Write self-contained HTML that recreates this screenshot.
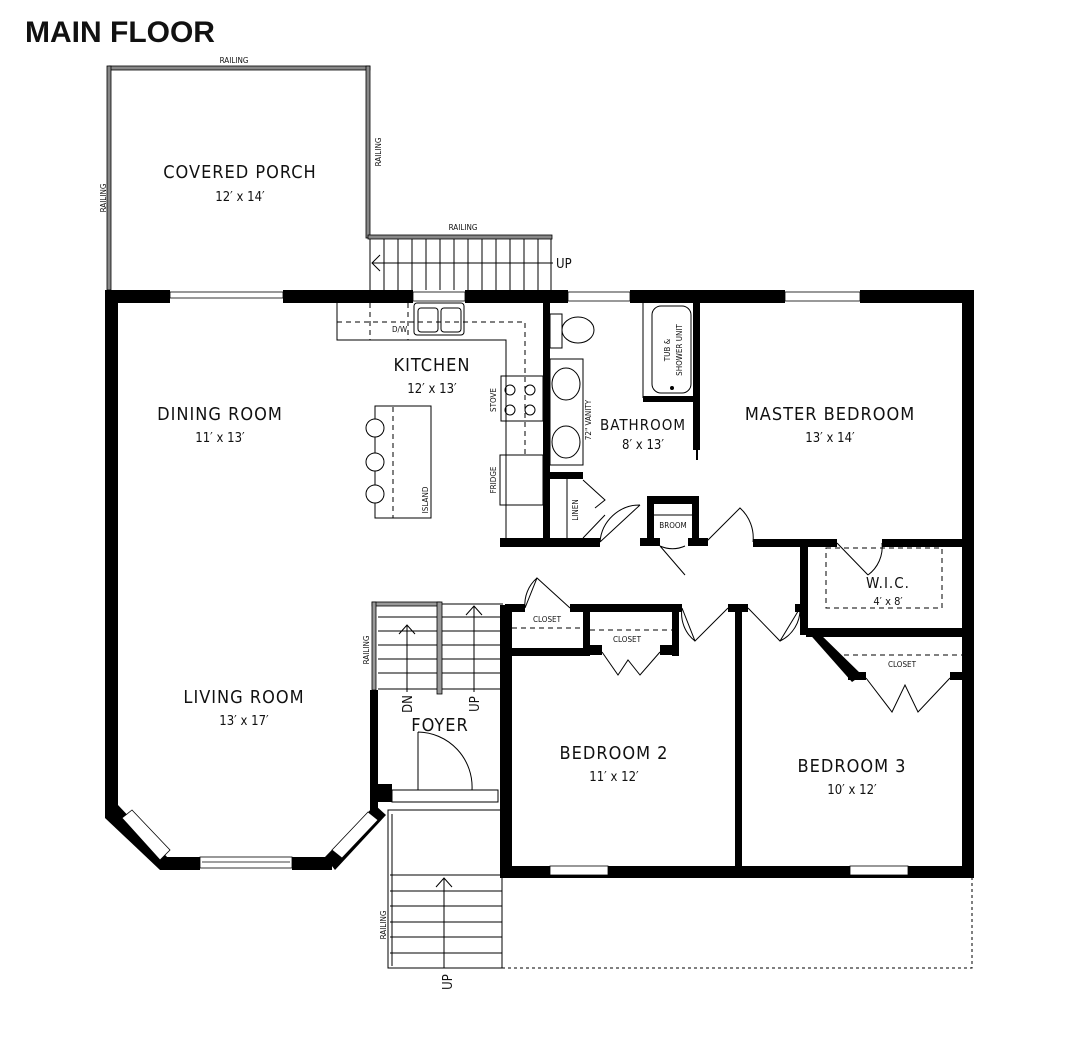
<!DOCTYPE html>
<html><head><meta charset="utf-8"><style>
html,body{margin:0;padding:0;background:#fff;}
svg{display:block;}
text{font-family:"DejaVu Sans Condensed","DejaVu Sans","Liberation Sans Narrow",sans-serif;fill:#111;}
.t{font-size:18px;letter-spacing:1px;}
.d{font-size:13px;}
.s{font-size:8px;}
</style></head><body>
<svg width="1070" height="1059" viewBox="0 0 1070 1059" xmlns="http://www.w3.org/2000/svg">
<rect width="1070" height="1059" fill="#fff"/>
<text x="25" y="42" style="font-family:'Liberation Sans',sans-serif;font-weight:bold;font-size:30px;">MAIN FLOOR</text>

<!-- Porch railings -->
<g fill="#888" stroke="#000" stroke-width="0.8">
<rect x="109" y="66" width="261" height="4"/>
<rect x="107" y="66" width="4" height="224"/>
<rect x="366" y="66" width="4" height="172"/>
<rect x="368" y="235" width="184" height="4"/>
</g>
<text class="s" x="234" y="63" text-anchor="middle">RAILING</text>
<text class="s" transform="translate(106,198) rotate(-90)" text-anchor="middle">RAILING</text>
<text class="s" transform="translate(381,152) rotate(-90)" text-anchor="middle">RAILING</text>
<text class="s" x="463" y="230" text-anchor="middle">RAILING</text>
<text class="t" x="240" y="178" text-anchor="middle">COVERED PORCH</text>
<text class="d" x="240" y="201" text-anchor="middle">12′ x 14′</text>
<!-- porch stair -->
<g stroke="#000" stroke-width="1" fill="none">
<line x1="370" y1="239" x2="370" y2="290"/>
<line x1="551" y1="239" x2="551" y2="290"/>
<path d="M384 239V290M398 239V290M412 239V290M426 239V290M440 239V290M454 239V290M468 239V290M482 239V290M496 239V290M510 239V290M524 239V290M538 239V290"/>
<line x1="372" y1="263" x2="553" y2="263"/>
<path d="M380 255L372 263L380 271"/>
</g>
<text class="d" x="556" y="268">UP</text>

<!-- Exterior walls -->
<g fill="#000">
<rect x="105" y="290" width="65" height="13"/>
<rect x="283" y="290" width="130" height="13"/>
<rect x="465" y="290" width="103" height="13"/>
<rect x="630" y="290" width="155" height="13"/>
<rect x="860" y="290" width="114" height="13"/>
<rect x="105" y="290" width="13" height="518"/>
<rect x="962" y="290" width="12" height="588"/>
<rect x="500" y="866" width="474" height="12"/>
<rect x="500" y="605" width="12" height="273"/>
<rect x="370" y="690" width="8" height="120"/>
<!-- bay -->
<polygon points="105,805 118,805 168,858 160,870 105,818"/>
<rect x="160" y="857" width="40" height="13"/>
<rect x="292" y="857" width="40" height="13"/>
<polygon points="325,857 375,805 386,815 335,870"/>
</g>
<!-- windows -->
<g stroke="#000" stroke-width="0.8" fill="#fff">
<rect x="170" y="292" width="113" height="6"/>
<rect x="413" y="292" width="52" height="9"/>
<rect x="568" y="292" width="62" height="9"/>
<rect x="785" y="292" width="75" height="9"/>
<rect x="200" y="857" width="92" height="11"/>
<rect x="550" y="866" width="58" height="9"/>
<rect x="850" y="866" width="58" height="9"/>
<polygon points="122,818 132,810 170,850 160,860"/>
<polygon points="332,850 368,812 378,820 342,858"/>
</g>
<g stroke="#000" stroke-width="0.8"><line x1="202" y1="862" x2="290" y2="862"/></g>

<!-- interior walls -->
<g fill="#000">
<rect x="543" y="300" width="7" height="245"/>
<rect x="693" y="300" width="7" height="150"/>
<rect x="643" y="396" width="57" height="6"/>
<rect x="500" y="538" width="100" height="9"/>
<rect x="543" y="472" width="40" height="7"/>
<rect x="647" y="496" width="52" height="8"/>
<rect x="647" y="496" width="7" height="50"/>
<rect x="692" y="496" width="7" height="50"/>
<rect x="640" y="538" width="20" height="8"/>
<rect x="688" y="538" width="20" height="8"/>
<rect x="753" y="539" width="84" height="8"/>
<rect x="882" y="539" width="92" height="8"/>
<rect x="800" y="545" width="8" height="90"/>
<rect x="806" y="628" width="168" height="9"/>
<polygon points="806,630 816,630 862,675 852,682"/>
<rect x="848" y="672" width="18" height="8"/>
<rect x="950" y="672" width="20" height="8"/>
<rect x="505" y="604" width="20" height="8"/>
<rect x="570" y="604" width="112" height="8"/>
<rect x="583" y="604" width="7" height="50"/>
<rect x="505" y="648" width="85" height="8"/>
<rect x="672" y="604" width="7" height="52"/>
<rect x="590" y="645" width="12" height="10"/>
<rect x="660" y="645" width="12" height="10"/>
<rect x="728" y="604" width="20" height="8"/>
<rect x="735" y="604" width="7" height="270"/>
<rect x="795" y="604" width="12" height="8"/>
<rect x="500" y="784" width="12" height="20"/>
<rect x="370" y="784" width="22" height="18"/>
</g>
<!-- interior doors -->
<g stroke="#000" stroke-width="1" fill="none">
<path d="M600 542 L640 505 M600 542 A40 40 0 0 1 640 505"/>
<path d="M660 546 L685 575 M685 546 A30 30 0 0 1 660 546"/>
<path d="M706 542 L740 508 A40 40 0 0 1 753 542"/>
<path d="M583 480 L605 500 L595 508 M583 538 L605 515"/>
<path d="M837 543 L868 575 M882 543 A35 35 0 0 1 868 575"/>
<path d="M525 608 L537 578 L570 608 M525 608 A35 35 0 0 1 537 578"/>
<path d="M682 608 L695 641 L728 608 M682 608 A35 35 0 0 0 695 641"/>
<path d="M748 608 L780 641 L800 608 M800 608 A35 35 0 0 1 780 641"/>
<path d="M602 652 L618 675 L628 660 L640 675 L660 652"/>
<path d="M866 678 L892 712 L905 685 L918 712 L950 678"/>
<path d="M418 732 V790 M418 732 A55 55 0 0 1 472 790"/>
</g>
<!-- dashed shelves -->
<g stroke="#000" stroke-width="1" fill="none" stroke-dasharray="5,4">
<line x1="512" y1="628" x2="583" y2="628"/>
<line x1="590" y1="630" x2="672" y2="630"/>
<line x1="835" y1="655" x2="962" y2="655"/>
<rect x="826" y="548" width="116" height="60"/>
<path d="M337 322 H525 V455"/>
<line x1="370" y1="303" x2="370" y2="340"/>
<line x1="408" y1="303" x2="408" y2="340"/>
<line x1="393" y1="407" x2="393" y2="518"/>
</g>
<!-- kitchen -->
<g stroke="#000" stroke-width="1" fill="none">
<path d="M337 303 V340 H506 V538"/>
<rect x="414" y="303" width="50" height="32" rx="3"/>
<rect x="418" y="308" width="20" height="24" rx="3"/>
<rect x="441" y="308" width="20" height="24" rx="3"/>
<rect x="501" y="376" width="42" height="45"/>
<circle cx="510" cy="390" r="5"/><circle cx="530" cy="390" r="5"/>
<circle cx="510" cy="410" r="5"/><circle cx="530" cy="410" r="5"/>
<rect x="500" y="455" width="43" height="50"/>
<rect x="375" y="406" width="56" height="112"/>
<circle cx="375" cy="428" r="9" fill="#fff"/><circle cx="375" cy="462" r="9" fill="#fff"/><circle cx="375" cy="494" r="9" fill="#fff"/>
<!-- bathroom fixtures -->
<rect x="550" y="314" width="12" height="34"/>
<ellipse cx="578" cy="330" rx="16" ry="13"/>
<rect x="550" y="359" width="33" height="106"/>
<ellipse cx="566" cy="384" rx="14" ry="16"/>
<ellipse cx="566" cy="442" rx="14" ry="16"/>
<line x1="643" y1="303" x2="643" y2="398"/>
<rect x="652" y="306" width="39" height="87" rx="9"/>
<circle cx="672" cy="388" r="1.5" fill="#000"/>
<line x1="567" y1="479" x2="567" y2="540"/>
<line x1="654" y1="515" x2="692" y2="515"/>
</g>
<line x1="697" y1="448" x2="697" y2="460" stroke="#000" stroke-width="2"/>
<text class="s" x="392" y="332" >D/W</text>
<text class="s" transform="translate(496,400) rotate(-90)" text-anchor="middle">STOVE</text>
<text class="s" transform="translate(496,480) rotate(-90)" text-anchor="middle">FRIDGE</text>
<text class="s" transform="translate(428,500) rotate(-90)" text-anchor="middle">ISLAND</text>
<text class="s" transform="translate(591,420) rotate(-90)" text-anchor="middle">72" VANITY</text>
<text class="s" transform="translate(670,350) rotate(-90)" text-anchor="middle">TUB &amp;</text>
<text class="s" transform="translate(682,350) rotate(-90)" text-anchor="middle">SHOWER UNIT</text>
<text class="s" transform="translate(578,510) rotate(-90)" text-anchor="middle">LINEN</text>
<text class="s" x="673" y="528" text-anchor="middle">BROOM</text>
<text class="s" x="547" y="622" text-anchor="middle">CLOSET</text>
<text class="s" x="627" y="642" text-anchor="middle">CLOSET</text>
<text class="s" x="902" y="667" text-anchor="middle">CLOSET</text>

<!-- interior stair -->
<g stroke="#000" stroke-width="1" fill="none">
<path d="M378 617H503M378 631H503M378 645H503M378 659H503M378 673H503M378 689H503"/>
<line x1="378" y1="604" x2="503" y2="604"/>
<line x1="407" y1="625" x2="407" y2="692"/><path d="M399 634L407 625L415 634"/>
<line x1="474" y1="606" x2="474" y2="692"/><path d="M466 615L474 606L482 615"/>
</g>
<g fill="#999" stroke="#000" stroke-width="0.8">
<rect x="372" y="602" width="68" height="4"/>
<rect x="372" y="602" width="4" height="88"/>
<rect x="437" y="602" width="5" height="92"/>
</g>
<text class="s" transform="translate(369,650) rotate(-90)" text-anchor="middle">RAILING</text>
<text class="d" transform="translate(412,704) rotate(-90)" text-anchor="middle">DN</text>
<text class="d" transform="translate(479,704) rotate(-90)" text-anchor="middle">UP</text>

<!-- front stair -->
<g stroke="#000" stroke-width="1" fill="none">
<rect x="388" y="810" width="114" height="158"/>
<rect x="392" y="790" width="106" height="12"/>
<path d="M390 875H502M390 891H502M390 906H502M390 922H502M390 937H502M390 953H502"/>
<line x1="392" y1="814" x2="392" y2="966"/>
<line x1="444" y1="878" x2="444" y2="968"/><path d="M436 887L444 878L452 887"/>
<path d="M502 968H972V878" stroke-dasharray="3,3"/>
</g>
<text class="s" transform="translate(386,925) rotate(-90)" text-anchor="middle">RAILING</text>
<text class="d" transform="translate(452,982) rotate(-90)" text-anchor="middle">UP</text>

<!-- room labels -->
<text class="t" x="432" y="371" text-anchor="middle">KITCHEN</text>
<text class="d" x="432" y="393" text-anchor="middle">12′ x 13′</text>
<text class="t" x="220" y="420" text-anchor="middle">DINING ROOM</text>
<text class="d" x="220" y="442" text-anchor="middle">11′ x 13′</text>
<text class="t" x="643" y="430" text-anchor="middle" style="font-size:15px">BATHROOM</text>
<text class="d" x="643" y="449" text-anchor="middle">8′ x 13′</text>
<text class="t" x="830" y="420" text-anchor="middle">MASTER BEDROOM</text>
<text class="d" x="830" y="442" text-anchor="middle">13′ x 14′</text>
<text class="t" x="888" y="588" text-anchor="middle" style="font-size:15px">W.I.C.</text>
<text class="d" x="888" y="605" text-anchor="middle" style="font-size:11px">4′ x 8′</text>
<text class="t" x="244" y="703" text-anchor="middle">LIVING ROOM</text>
<text class="d" x="244" y="725" text-anchor="middle">13′ x 17′</text>
<text class="t" x="440" y="731" text-anchor="middle">FOYER</text>
<text class="t" x="614" y="759" text-anchor="middle">BEDROOM 2</text>
<text class="d" x="614" y="781" text-anchor="middle">11′ x 12′</text>
<text class="t" x="852" y="772" text-anchor="middle">BEDROOM 3</text>
<text class="d" x="852" y="794" text-anchor="middle">10′ x 12′</text>
</svg>
</body></html>
